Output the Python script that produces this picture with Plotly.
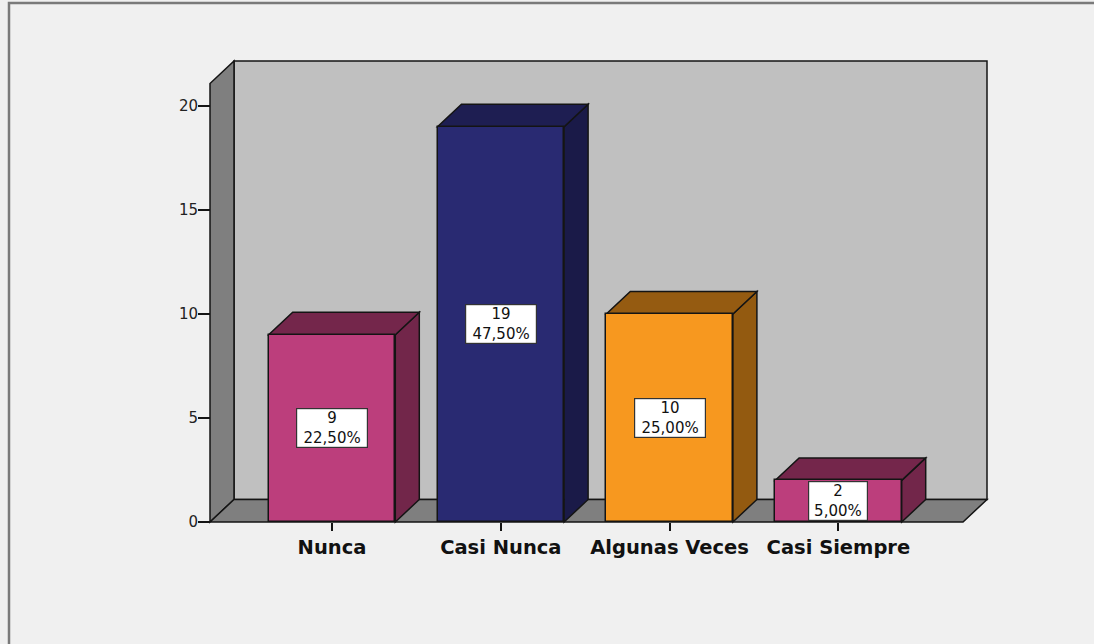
import plotly.graph_objects as go

# ---------------- data ----------------
categories = ["Nunca", "Casi Nunca", "Algunas Veces", "Casi Siempre"]
counts = [9, 19, 10, 2]
total = 40
y_ticks = [0, 5, 10, 15, 20]

front_colors = ["#BC3E7C", "#292A72", "#F7981F", "#BC3E7C"]
top_colors = ["#74264B", "#1E1E52", "#955B11", "#74264B"]
side_colors = ["#72264A", "#1A1A48", "#935A10", "#72264A"]

positions = list(range(len(categories)))
percent_text = [f"{c / total * 100:.2f}".replace(".", ",") + "%" for c in counts]

# ---------------- layout geometry (pixels) ----------------
W, H = 1094, 644
ML, MR, MT, MB = 200, 100, 55, 115
plot_w = W - ML - MR
plot_h = H - MT - MB
px_x0, px_per_x = 332.0, 168.8     # pixel of category 0, pixels per category
px_y0, px_per_y = 522.0, 20.8      # pixel of value 0, pixels per unit

x_range = [(ML - px_x0) / px_per_x, (W - MR - px_x0) / px_per_x]
y_range = [(px_y0 - (H - MB)) / px_per_y, (px_y0 - MT) / px_per_y]

dx = 24 / px_per_x          # depth offset in x units
dy = 22.5 / px_per_y        # depth offset in y units
bar_w = 0.75

wall_left = (210 - px_x0) / px_per_x
wall_right_front = (963 - px_x0) / px_per_x
wall_top = (px_y0 - 61) / px_per_y

EDGE = "#141414"
LW = 1.5
FONT = "DejaVu Sans, Verdana, sans-serif"


def poly(pts):
    return "M " + " L ".join(f"{x},{y}" for x, y in pts) + " Z"


shapes = []
# back wall
shapes.append(dict(type="path", xref="x", yref="y", layer="below",
                   path=poly([(wall_left + dx, dy), (wall_right_front + dx, dy),
                              (wall_right_front + dx, wall_top), (wall_left + dx, wall_top)]),
                   fillcolor="#C0C0C0", line=dict(color=EDGE, width=LW)))
# left wall
shapes.append(dict(type="path", xref="x", yref="y", layer="below",
                   path=poly([(wall_left, 0), (wall_left + dx, dy),
                              (wall_left + dx, wall_top), (wall_left, wall_top - dy)]),
                   fillcolor="#7F7F7F", line=dict(color=EDGE, width=LW)))
# floor
shapes.append(dict(type="path", xref="x", yref="y", layer="below",
                   path=poly([(wall_left, 0), (wall_right_front, 0),
                              (wall_right_front + dx, dy), (wall_left + dx, dy)]),
                   fillcolor="#7F7F7F", line=dict(color=EDGE, width=LW)))

# bar side and top faces
for p, v, tc, sc in zip(positions, counts, top_colors, side_colors):
    x0, x1 = p - bar_w / 2, p + bar_w / 2
    shapes.append(dict(type="path", xref="x", yref="y", layer="below",
                       path=poly([(x1, 0), (x1 + dx, dy), (x1 + dx, v + dy), (x1, v)]),
                       fillcolor=sc, line=dict(color=EDGE, width=LW)))
    shapes.append(dict(type="path", xref="x", yref="y", layer="below",
                       path=poly([(x0, v), (x1, v), (x1 + dx, v + dy), (x0 + dx, v + dy)]),
                       fillcolor=tc, line=dict(color=EDGE, width=LW)))


# outer frame (paper coordinates)
def pxx(px):
    return (px - ML) / plot_w


def pxy(py):
    return (H - MB - py) / plot_h


shapes.append(dict(type="path", xref="paper", yref="paper", layer="above",
                   path=f"M {pxx(9)},{pxy(700)} L {pxx(9)},{pxy(3)} L {pxx(1150)},{pxy(3)}",
                   line=dict(color="#7A7A7A", width=2.5)))

fig = go.Figure()
fig.add_trace(go.Bar(
    x=positions, y=counts, width=bar_w,
    marker=dict(color=front_colors, line=dict(color=EDGE, width=LW)),
    hoverinfo="skip", showlegend=False,
))

annotations = []
for p, v, pt in zip(positions, counts, percent_text):
    longest = max(len(str(v)), len(pt))
    annotations.append(dict(
        x=p, y=v / 2, xref="x", yref="y", showarrow=False,
        text=f"{v}<br>{pt}", align="center",
        width=12.3 * longest - 4,
        font=dict(family=FONT, size=15, color="#111111"),
        bgcolor="white", bordercolor="#333333", borderwidth=1.2, borderpad=0,
    ))

fig.update_layout(
    width=W, height=H,
    margin=dict(l=ML, r=MR, t=MT, b=MB, pad=0),
    paper_bgcolor="#F0F0F0", plot_bgcolor="#F0F0F0",
    shapes=shapes, annotations=annotations,
    bargap=0,
    xaxis=dict(
        range=x_range, tickmode="array", tickvals=positions,
        ticktext=[f"<b>{c}</b>" for c in categories],
        showgrid=False, zeroline=False, showline=False,
        ticks="outside", ticklen=8, tickwidth=1.5, tickcolor=EDGE,
        anchor="free", position=pxy(522),
        tickfont=dict(family=FONT, size=19.5, color="#111111"),
        fixedrange=True,
    ),
    yaxis=dict(
        range=y_range, tickmode="array", tickvals=y_ticks,
        showgrid=False, zeroline=False, showline=False,
        ticks="outside", ticklen=12, tickwidth=1.5, tickcolor=EDGE,
        ticklabelstandoff=-3,
        anchor="free", position=pxx(210),
        tickfont=dict(family=FONT, size=15, color="#222222"),
        fixedrange=True,
    ),
    font=dict(family=FONT),
)

fig.write_html("out.html", config={"displayModeBar": False})
